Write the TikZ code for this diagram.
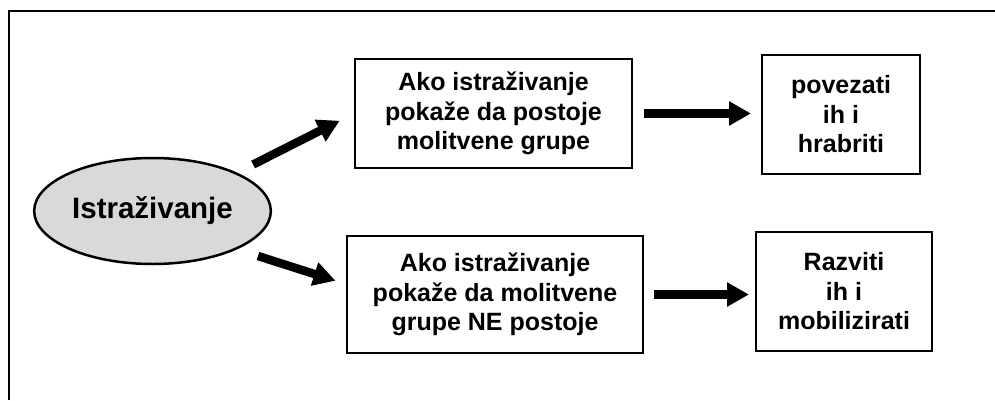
\documentclass[tikz,border=0pt]{standalone}
\usepackage{fontspec}
\setmainfont{Liberation Sans}
\usepackage{tikz}
\usetikzlibrary{arrows.meta,positioning,shapes.geometric}
\definecolor{ovalfill}{HTML}{D9D9D9}
\definecolor{linecolor}{HTML}{000000}

\begin{document}
\begin{tikzpicture}[x=1pt, y=1pt,
    box/.style={draw=linecolor, line width=2pt, align=center, inner sep=0pt,
        font=\fontsize{25}{29.5}\selectfont\bfseries},
    bigarrow/.style={draw=linecolor, line width=8.5pt, -{Triangle[length=22pt,width=23pt]}}]
    \useasboundingbox (0,0) rectangle (995,400);
    \draw[linecolor, line width=2.5pt] (9,0) |- (995,389);

    \node[ellipse, draw=linecolor, line width=2.5pt, fill=ovalfill, minimum width=231pt, minimum height=106pt,
        font=\fontsize{29.5}{34}\selectfont\bfseries] (istrazivanje) at (152.5,189) {Istraživanje};
    \node[box, minimum width=277pt, minimum height=109pt] (postoje) at (493.5,286.5)
        {Ako istraživanje\\pokaže da postoje\\molitvene grupe};
    \node[box, minimum width=296pt, minimum height=117pt] (nepostoje) at (495,105.5)
        {Ako istraživanje\\pokaže da molitvene\\grupe NE postoje};
    \node[box, minimum width=158pt, minimum height=119pt] (povezati) at (841,285.5)
        {povezati\\ih i\\hrabriti};
    \node[box, minimum width=176pt, minimum height=119pt] (razviti) at (844,108.5)
        {Razviti\\ih i\\mobilizirati};

    \draw[bigarrow, shorten <=18pt, shorten >=16pt] (istrazivanje.north east) -- (postoje.west);
    \draw[bigarrow, shorten <=22pt, shorten >=11pt] (istrazivanje.south east) -- (nepostoje.176);
    \draw[bigarrow, shorten <=11pt, shorten >=10pt] (postoje.east) -- (povezati.west |- postoje.east);
    \draw[bigarrow, shorten <=10pt, shorten >=6pt] (nepostoje.east) -- (razviti.west |- nepostoje.east);
\end{tikzpicture}
\end{document}
